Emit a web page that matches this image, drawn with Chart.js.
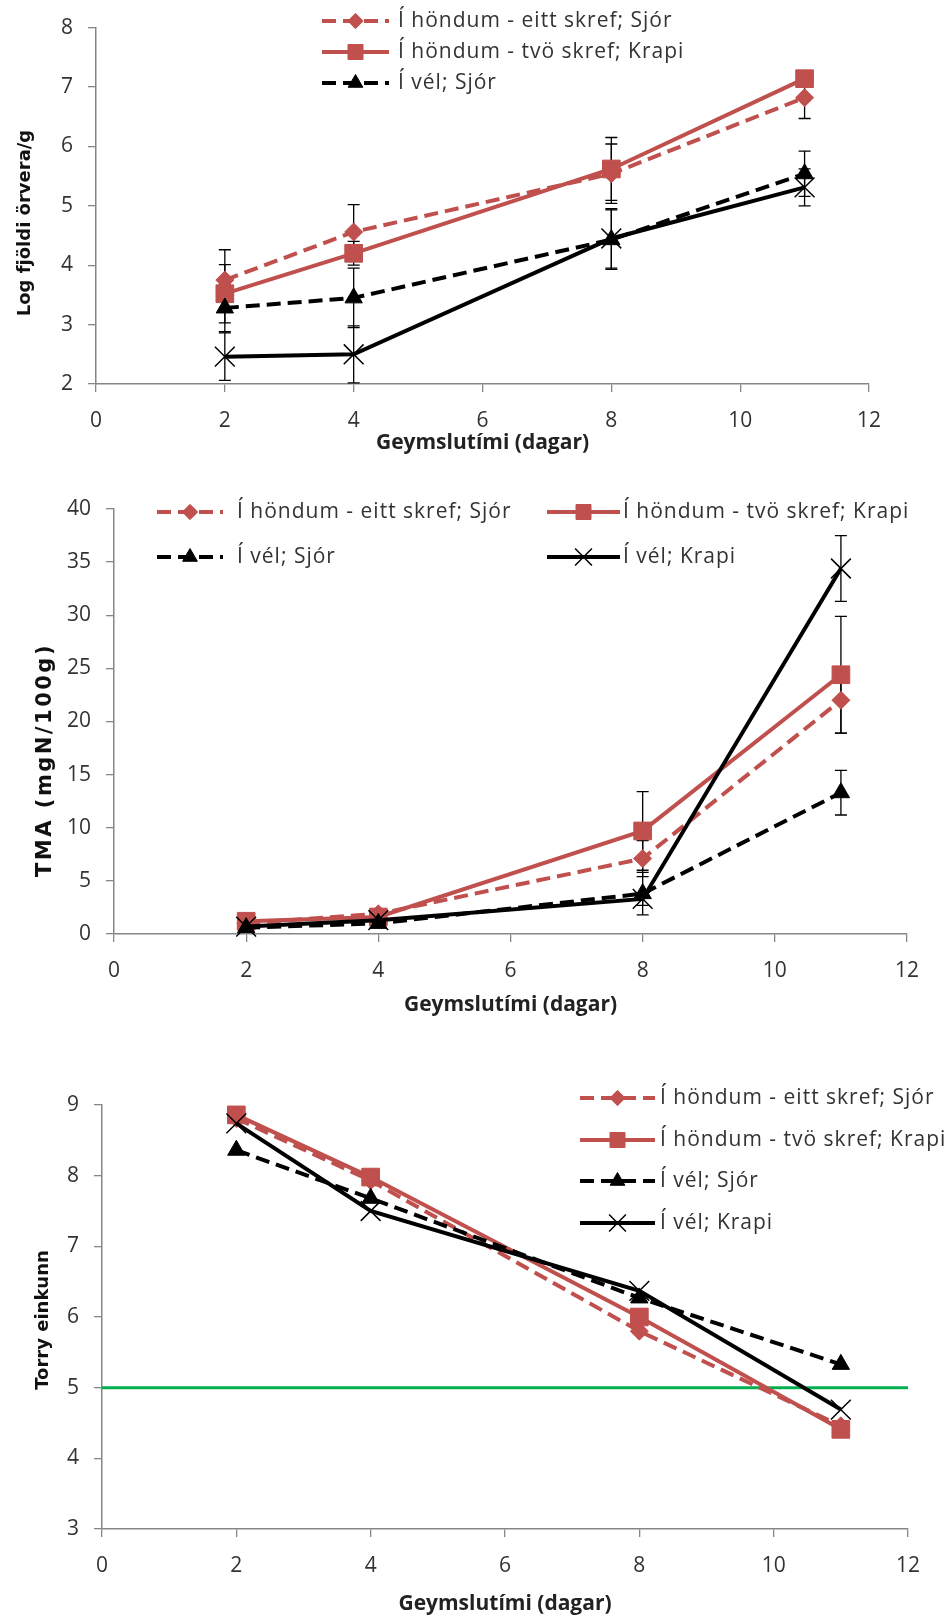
<!DOCTYPE html>
<html>
<head>
<meta charset="utf-8">
<script src="https://cdn.jsdelivr.net/npm/chart.js@4.4.1/dist/chart.umd.min.js"></script>
<style>
  html, body { margin: 0; padding: 0; background: #fff; }
  body { width: 951px; height: 1617px; position: relative; overflow: hidden; }
  canvas { position: absolute; left: 0; display: block; }
</style>
</head>
<body>
<canvas id="logChart" width="951" height="460" style="top:0"></canvas>
<canvas id="tmaChart" width="951" height="580" style="top:460px"></canvas>
<canvas id="torryChart" width="951" height="577" style="top:1040px"></canvas>
<script>
// storage days
const days = [2, 4, 8, 11];
const seriesNames = [
  'Í höndum - eitt skref; Sjór',
  'Í höndum - tvö skref; Krapi',
  'Í vél; Sjór',
  'Í vél; Krapi'
];
const xTicks = [0, 2, 4, 6, 8, 10, 12];

// Log fjöldi örvera/g
const logHandOne = [3.75, 4.56, 5.54, 6.82];
const logHandTwo = [3.52, 4.20, 5.62, 7.14];
const logMachineSea = [3.28, 3.45, 4.43, 5.54];
const logMachineSlurry = [2.46, 2.50, 4.45, 5.31];
const logHandOneErr = [0.51, 0.46, 0.50, 0.35];
const logHandTwoErr = [0.49, 0.20, 0.53, 0.10];
const logMachineSeaErr = [0.40, 0.50, 0.50, 0.38];
const logMachineSlurryErr = [0.40, 0.48, 0.50, 0.31];

// TMA (mgN/100g)
const tmaHandOne = [1.0, 1.9, 7.1, 22.0];
const tmaHandTwo = [1.2, 1.6, 9.7, 24.4];
const tmaMachineSea = [0.6, 1.0, 3.8, 13.3];
const tmaMachineSlurry = [0.7, 1.3, 3.3, 34.4];
const tmaHandOneErr = [0.3, 0.4, 1.7, 3.1];
const tmaHandTwoErr = [0.3, 0.3, 3.7, 5.5];
const tmaMachineSeaErr = [0.2, 0.3, 2.0, 2.1];
const tmaMachineSlurryErr = [0.2, 0.3, 0.6, 3.1];

// Torry einkunn
const torryHandOne = [8.81, 7.93, 5.80, 4.46];
const torryHandTwo = [8.86, 7.98, 6.00, 4.41];
const torryMachineSea = [8.36, 7.68, 6.27, 5.33];
const torryMachineSlurry = [8.74, 7.50, 6.37, 4.69];
const torryLimit = 5;

const RED = '#C0504D';
const BLACK = '#000000';
const GREEN = '#00B050';
const AXIS = '#868686';

const styles = [
  { color: RED, dash: [14, 7], pointStyle: 'rectRot', radius: 9, pw: 1 },
  { color: RED, dash: [], pointStyle: 'rect', radius: 12.5, pw: 1 },
  { color: BLACK, dash: [14, 7], pointStyle: 'triangle', radius: 10, pw: 1 },
  { color: BLACK, dash: [], pointStyle: 'crossRot', radius: 14, pw: 1.5 }
];

function series(i, values, errs) {
  const s = styles[i];
  return {
    label: seriesNames[i],
    data: days.map((d, k) => ({ x: d, y: values[k] })),
    errorBars: errs || null,
    borderColor: s.color,
    backgroundColor: s.color,
    borderWidth: 4,
    borderDash: s.dash,
    pointStyle: s.pointStyle,
    pointRadius: s.radius,
    pointBackgroundColor: s.color,
    pointBorderColor: s.color,
    pointBorderWidth: s.pw,
    tension: 0,
    order: 4 - i,
    clip: false
  };
}

const errorBarPlugin = {
  id: 'errorBars',
  beforeDatasetsDraw(chart) {
    const { ctx, scales: { x, y } } = chart;
    ctx.save();
    ctx.strokeStyle = '#000';
    ctx.lineWidth = 1.3;
    chart.data.datasets.forEach(ds => {
      if (!ds.errorBars) return;
      ds.data.forEach((p, i) => {
        const e = ds.errorBars[i];
        if (!e) return;
        const px = x.getPixelForValue(p.x);
        const top = y.getPixelForValue(p.y + e);
        const bot = y.getPixelForValue(p.y - e);
        ctx.beginPath();
        ctx.moveTo(px, top); ctx.lineTo(px, bot);
        ctx.moveTo(px - 6, top); ctx.lineTo(px + 6, top);
        ctx.moveTo(px - 6, bot); ctx.lineTo(px + 6, bot);
        ctx.stroke();
      });
    });
    ctx.restore();
  }
};

const sampleLegendPlugin = {
  id: 'sampleLegend',
  afterDraw(chart, args, opts) {
    if (!opts.items) return;
    const ctx = chart.ctx;
    opts.items.forEach(it => {
      const ds = chart.data.datasets[it.index];
      ctx.save();
      ctx.strokeStyle = ds.borderColor;
      ctx.lineWidth = ds.borderWidth;
      ctx.setLineDash(ds.borderDash || []);
      ctx.beginPath();
      ctx.moveTo(it.x1, it.y);
      ctx.lineTo(it.x2, it.y);
      ctx.stroke();
      ctx.setLineDash([]);
      ctx.fillStyle = ds.pointBackgroundColor;
      ctx.strokeStyle = ds.pointBorderColor;
      ctx.lineWidth = ds.pointBorderWidth;
      Chart.helpers.drawPoint(ctx, {
        pointStyle: ds.pointStyle,
        radius: ds.pointRadius * 0.85,
        rotation: 0,
        borderWidth: ds.pointBorderWidth
      }, (it.x1 + it.x2) / 2, it.y);
      ctx.font = '21px "Open Sans"';
      ctx.letterSpacing = '1px';
      ctx.fillStyle = '#333';
      ctx.textAlign = 'left';
      ctx.textBaseline = 'middle';
      ctx.fillText(ds.label, it.tx, it.y);
      ctx.restore();
    });
  }
};

const sideTitlePlugin = {
  id: 'sideTitle',
  afterDraw(chart, args, o) {
    if (!o.text) return;
    const ctx = chart.ctx;
    ctx.save();
    ctx.translate(o.x, o.y);
    ctx.rotate(-Math.PI / 2);
    ctx.font = 'bold ' + o.size + 'px "DejaVu Sans"';
    ctx.letterSpacing = (o.spacing || 0) + 'px';
    ctx.fillStyle = '#111';
    ctx.textAlign = 'center';
    ctx.textBaseline = 'middle';
    ctx.fillText(o.text, 0, 0);
    ctx.restore();
  }
};

function makeChart(id, cfg) {
  const tickFont = { family: 'Open Sans', size: 21 };
  return new Chart(document.getElementById(id), {
    type: 'line',
    data: { datasets: cfg.datasets },
    options: {
      responsive: false,
      animation: false,
      events: [],
      layout: { padding: { top: cfg.padTop, right: cfg.padRight, left: 0, bottom: 0 } },
      plugins: {
        legend: { display: false },
        tooltip: { enabled: false },
        sampleLegend: { items: cfg.legend },
        sideTitle: cfg.yTitle
      },
      scales: {
        x: {
          type: 'linear',
          min: 0,
          max: 12,
          afterBuildTicks: s => { s.ticks = xTicks.map(v => ({ value: v })); },
          ticks: { color: '#333', font: tickFont, padding: 16 },
          grid: { drawOnChartArea: false, tickLength: 8, color: AXIS, lineWidth: 1.3 },
          border: { color: AXIS, width: 1.5 },
          title: {
            display: true,
            text: 'Geymslutími (dagar)',
            color: '#222',
            font: { family: 'Open Sans', size: 21, weight: 'bold' },
            padding: { top: 0, bottom: cfg.xTitlePad }
          },
          afterFit: s => { s.height = cfg.xHeight; }
        },
        y: {
          type: 'linear',
          min: cfg.yMin,
          max: cfg.yMax,
          ticks: { stepSize: cfg.yStep, color: '#333', font: tickFont, padding: 15 },
          grid: { drawOnChartArea: false, tickLength: 8, color: AXIS, lineWidth: 1.3 },
          border: { color: AXIS, width: 1.5 },
          afterFit: s => { s.width = cfg.yWidth; }
        }
      }
    },
    plugins: [errorBarPlugin, sampleLegendPlugin, sideTitlePlugin]
  });
}

makeChart('logChart', {
  datasets: [
    series(0, logHandOne, logHandOneErr),
    series(1, logHandTwo, logHandTwoErr),
    series(2, logMachineSea, logMachineSeaErr),
    series(3, logMachineSlurry, logMachineSlurryErr)
  ],
  padTop: 27, padRight: 82, yWidth: 96, xHeight: 76, xTitlePad: 4,
  yMin: 2, yMax: 8, yStep: 1,
  yTitle: { text: 'Log fjöldi örvera/g', x: 25, y: 223, size: 18 },
  legend: [
    { index: 0, x1: 322, x2: 389, tx: 398, y: 21 },
    { index: 1, x1: 322, x2: 389, tx: 398, y: 52 },
    { index: 2, x1: 322, x2: 389, tx: 398, y: 83 }
  ]
});

makeChart('tmaChart', {
  datasets: [
    series(0, tmaHandOne, tmaHandOneErr),
    series(1, tmaHandTwo, tmaHandTwoErr),
    series(2, tmaMachineSea, tmaMachineSeaErr),
    series(3, tmaMachineSlurry, tmaMachineSlurryErr)
  ],
  padTop: 49, padRight: 44, yWidth: 114, xHeight: 106, xTitlePad: 22,
  yMin: 0, yMax: 40, yStep: 5,
  yTitle: { text: 'TMA (mgN/100g)', x: 46, y: 300, size: 21, spacing: 2.5 },
  legend: [
    { index: 0, x1: 157, x2: 223, tx: 237, y: 52 },
    { index: 1, x1: 547, x2: 620, tx: 623, y: 52 },
    { index: 2, x1: 157, x2: 223, tx: 237, y: 97 },
    { index: 3, x1: 547, x2: 620, tx: 623, y: 97 }
  ]
});

const torrySets = [
  series(0, torryHandOne),
  series(1, torryHandTwo),
  series(2, torryMachineSea),
  series(3, torryMachineSlurry),
  {
    label: 'limit',
    data: [{ x: 0, y: torryLimit }, { x: 12, y: torryLimit }],
    borderColor: GREEN,
    borderWidth: 3,
    pointRadius: 0,
    order: 5
  }
];

makeChart('torryChart', {
  datasets: torrySets,
  padTop: 65, padRight: 43, yWidth: 102, xHeight: 88, xTitlePad: 0,
  yMin: 3, yMax: 9, yStep: 1,
  yTitle: { text: 'Torry einkunn', x: 43, y: 280, size: 18 },
  legend: [
    { index: 0, x1: 580, x2: 655, tx: 660, y: 58 },
    { index: 1, x1: 580, x2: 655, tx: 660, y: 100 },
    { index: 2, x1: 580, x2: 655, tx: 660, y: 141 },
    { index: 3, x1: 580, x2: 655, tx: 660, y: 183 }
  ]
});
</script>
</body>
</html>
